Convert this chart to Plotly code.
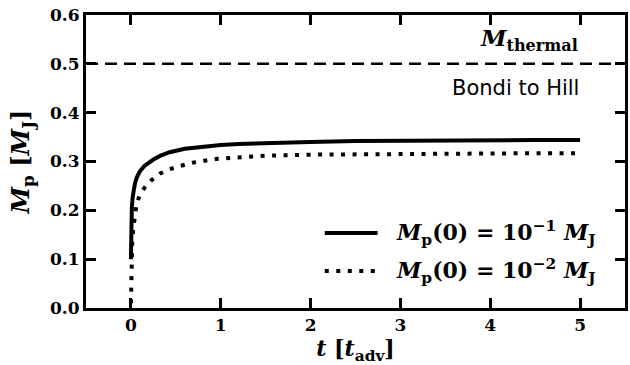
import plotly.graph_objects as go

# Planet mass growth, M_p(0) = 0.1 M_J
t_hi = [0, 0.001, 0.003, 0.006, 0.01, 0.02, 0.03, 0.045, 0.065, 0.1, 0.15, 0.2,
        0.25, 0.33, 0.43, 0.6, 0.8, 1.0, 1.2, 1.5, 2.0, 2.5, 3.0, 3.5, 4.0, 4.5, 5.0]
m_hi = [0.100, 0.130, 0.160, 0.185, 0.205, 0.228, 0.240, 0.255, 0.267, 0.280, 0.291, 0.298,
        0.304, 0.312, 0.319, 0.326, 0.331, 0.334, 0.336, 0.338, 0.340, 0.342, 0.343, 0.343,
        0.344, 0.344, 0.344]

# Planet mass growth, M_p(0) = 0.01 M_J
t_lo = [0, 0.002, 0.005, 0.01, 0.015, 0.025, 0.04, 0.06, 0.08, 0.11, 0.15, 0.23, 0.32,
        0.43, 0.55, 0.7, 0.94, 1.2, 1.5, 2.0, 2.5, 3.0, 3.5, 4.0, 4.5, 5.0]
m_lo = [0.010, 0.050, 0.085, 0.115, 0.135, 0.160, 0.190, 0.210, 0.222, 0.235, 0.246, 0.262,
        0.275, 0.284, 0.291, 0.298, 0.305, 0.309, 0.312, 0.314, 0.315, 0.316, 0.317, 0.317,
        0.317, 0.317]

m_thermal = 0.5
x_ticks = [0, 1, 2, 3, 4, 5]
y_ticks = [0.0, 0.1, 0.2, 0.3, 0.4, 0.5, 0.6]

SERIF = "DejaVu Serif"
SANS = "DejaVu Sans"

fig = go.Figure()
fig.add_trace(go.Scatter(x=t_hi, y=m_hi, mode="lines",
                         line=dict(color="black", width=4), showlegend=False))
fig.add_trace(go.Scatter(x=t_lo, y=m_lo, mode="lines",
                         line=dict(color="black", width=4, dash="4px,7.5px"), showlegend=False))

fig.add_hline(y=m_thermal, line=dict(color="black", width=2.5, dash="12px,7px"))

fig.add_annotation(x=0.916, y=0.915, xref="paper", yref="paper", xanchor="right", yanchor="middle",
                   text="<i>M</i><sub>thermal</sub>", showarrow=False,
                   font=dict(family=SERIF, size=23, color="black", weight="bold"))
fig.add_annotation(x=0.918, y=0.75, xref="paper", yref="paper", xanchor="right", yanchor="middle",
                   text="Bondi to Hill", showarrow=False,
                   font=dict(family=SANS, size=21, color="black"))

# Legend drawn by hand so the line samples can be long
legend_rows = [
    ("solid", "<i>M</i><sub>p</sub>(0) = 10<sup>−1</sup> <i>M</i><sub>J</sub>", 0.256),
    ("4px,7.5px", "<i>M</i><sub>p</sub>(0) = 10<sup>−2</sup> <i>M</i><sub>J</sub>", 0.126),
]
for dash, label, yy in legend_rows:
    fig.add_shape(type="line", xref="paper", yref="paper", x0=0.443, x1=0.541, y0=yy, y1=yy,
                  line=dict(color="black", width=4, dash=dash))
    fig.add_annotation(x=0.572, y=yy, xref="paper", yref="paper", xanchor="left",
                       yanchor="middle", text=label, showarrow=False,
                       font=dict(family=SERIF, size=22, color="black", weight="bold"))

axis_common = dict(showline=True, linewidth=3, linecolor="black", mirror="allticks",
                   ticks="inside", ticklen=10, tickwidth=3, tickcolor="black",
                   showgrid=False, zeroline=False,
                   tickfont=dict(family=SERIF, size=17, color="black", weight="bold"))

fig.update_xaxes(range=[-0.5, 5.5], tickvals=x_ticks, ticktext=[str(v) for v in x_ticks],
                 title=dict(text="<i>t</i> [<i>t</i><sub>adv</sub>]", standoff=9,
                            font=dict(family=SERIF, size=22, color="black", weight="bold")),
                 **axis_common)
fig.update_yaxes(range=[0, 0.6], tickvals=y_ticks, ticktext=[f"{v:.1f}" for v in y_ticks],
                 title=dict(text="<i>M</i><sub>p</sub> [<i>M</i><sub>J</sub>]", standoff=14,
                            font=dict(family=SERIF, size=24, color="black", weight="bold")),
                 **axis_common)

fig.update_layout(width=630, height=365, margin=dict(l=86, r=2, t=15, b=57),
                  paper_bgcolor="white", plot_bgcolor="white")

fig.write_html("out.html")
